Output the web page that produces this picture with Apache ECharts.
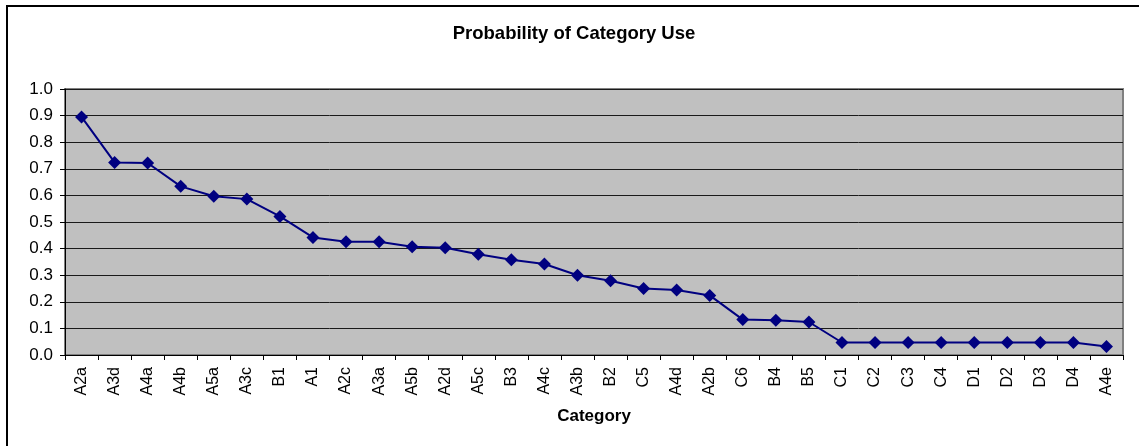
<!DOCTYPE html>
<html>
<head>
<meta charset="utf-8">
<script src="https://cdn.jsdelivr.net/npm/echarts@6/dist/echarts.min.js"></script>
<style>
  html, body { margin: 0; padding: 0; background: #fff; }
  #chart { width: 1139px; height: 446px; }
</style>
</head>
<body>
<div id="chart"></div>
<script>
var categories = ['A2a', 'A3d', 'A4a', 'A4b', 'A5a', 'A3c', 'B1', 'A1', 'A2c', 'A3a', 'A5b', 'A2d',
    'A5c', 'B3', 'A4c', 'A3b', 'B2', 'C5', 'A4d', 'A2b', 'C6', 'B4', 'B5', 'C1', 'C2', 'C3', 'C4',
    'D1', 'D2', 'D3', 'D4', 'A4e'];
var probability = [0.895, 0.724, 0.722, 0.634, 0.597, 0.586, 0.521, 0.442, 0.426, 0.426, 0.407, 0.403,
    0.379, 0.358, 0.342, 0.300, 0.279, 0.250, 0.244, 0.224, 0.133, 0.131, 0.124, 0.047, 0.047, 0.047, 0.047,
    0.047, 0.047, 0.047, 0.047, 0.032];
var yTicks = ['0.0', '0.1', '0.2', '0.3', '0.4', '0.5', '0.6', '0.7', '0.8', '0.9', '1.0'];

var font = "'Liberation Sans', Arial, sans-serif";
var chart = echarts.init(document.getElementById('chart'));

chart.setOption({
    animation: false,
    backgroundColor: '#fff',
    textStyle: { fontFamily: font },
    // outer frame (only left / top edges are visible in the picture)
    graphic: [{
        type: 'rect',
        shape: { x: 7, y: 6, width: 1200, height: 500 },
        style: { fill: 'none', stroke: '#000', lineWidth: 2 },
        silent: true
    }],
    title: {
        text: 'Probability of Category Use',
        left: 569,
        top: 19,
        textAlign: 'center',
        textStyle: { fontFamily: font, fontSize: 18.5, fontWeight: 'bold', color: '#000' }
    },
    grid: {
        left: 65, right: 16, top: 89, bottom: 91,
        show: true,
        backgroundColor: '#c0c0c0',
        borderColor: '#808080',
        borderWidth: 2
    },
    xAxis: {
        type: 'category',
        data: categories,
        boundaryGap: true,
        name: 'Category',
        nameLocation: 'middle',
        nameGap: 53,
        nameTextStyle: { fontFamily: font, fontSize: 17, fontWeight: 'bold', color: '#000' },
        axisLine: { lineStyle: { color: '#000', width: 1 } },
        axisTick: { show: true, alignWithLabel: false, length: 5, lineStyle: { color: '#000' } },
        axisLabel: { rotate: 90, margin: 12, interval: 0, fontSize: 16, color: '#000', fontFamily: font },
        splitLine: { show: false }
    },
    yAxis: {
        type: 'value',
        min: 0, max: 1, interval: 0.1,
        axisLine: { show: true, lineStyle: { color: '#000', width: 1 } },
        axisTick: { show: true, length: 5, lineStyle: { color: '#000' } },
        axisLabel: {
            margin: 12, fontSize: 17, color: '#000', fontFamily: font,
            formatter: function (v) { return yTicks[Math.round(v * 10)]; }
        },
        splitLine: { show: true, lineStyle: { color: '#1a1a1a', width: 1 } }
    },
    series: [{
        type: 'line',
        data: probability,
        symbol: 'diamond',
        symbolSize: 13,
        lineStyle: { color: '#000080', width: 2 },
        itemStyle: { color: '#000080' }
    }]
});
</script>
</body>
</html>
